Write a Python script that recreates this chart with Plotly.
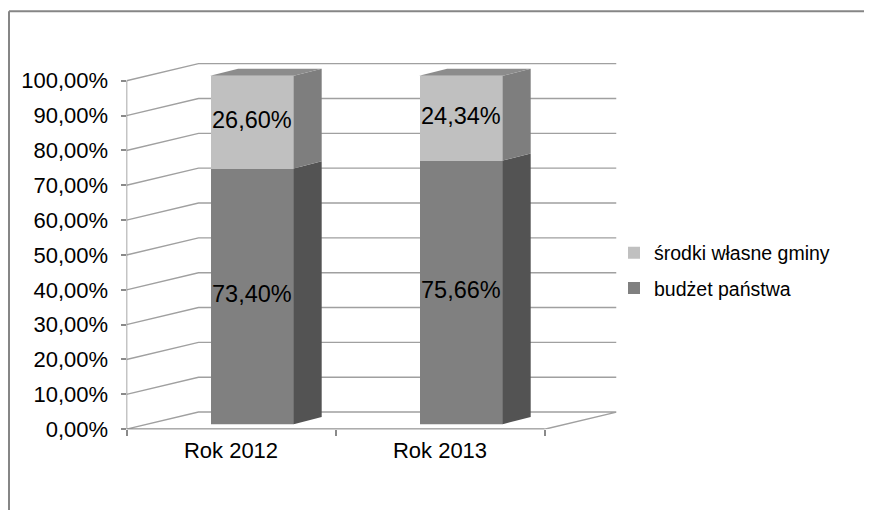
import plotly.graph_objects as go

# ---------------- data ----------------
categories = ["Rok 2012", "Rok 2013"]
budzet_panstwa = [73.40, 75.66]
srodki_wlasne = [26.60, 24.34]
y_ticks = [0, 10, 20, 30, 40, 50, 60, 70, 80, 90, 100]

# ---------------- geometry / style constants ----------------
PAGE_MARGIN = 8                      # default body margin of the html page
SY = 514.0 / 531.0                   # vertical squeeze observed in the capture
W = 872 - 2 * PAGE_MARGIN
H = 515
FONT = "Liberation Sans, Arial, sans-serif"

def px(v):                            # reference-screen x px -> figure px
    return v - PAGE_MARGIN

def py(v):                            # reference-screen y px -> figure px
    return v / SY - PAGE_MARGIN

def dy(v):                            # reference-screen y distance -> figure px
    return v / SY

X_LEFT_PX = px(126.5)
UNIT_PX = 209.0                       # px per category
Y0_PX = py(426.0)                     # px of 0%
PX_PER_PCT = dy(3.46)
DEPTH_WALL_X = 72.0 / UNIT_PX
DEPTH_WALL_Y = 17.0 / 3.46
X_MAX = len(categories) - 0.5 + DEPTH_WALL_X
Y_TOP_PX = py(58.0)
BAR_SHIFT_PX = dy(5.0)                # bars sit a bit deeper than the front floor edge

BAR_OFFSET = -0.1
BAR_WIDTH = 0.4
DEPTH_BAR_X = 28.0 / UNIT_PX
DEPTH_BAR_Y = 7.0 / 3.46

C_LOW_FRONT = "#808080"
C_LOW_SIDE = "#535353"
C_HIGH_FRONT = "#c0c0c0"
C_HIGH_SIDE = "#7e7e7e"
C_TOP = "#8c8c8c"
C_GRID = "#a0a0a0"
C_AXIS = "#8a8a8a"

x_pos = list(range(len(categories)))
y_range_top = (Y0_PX - Y_TOP_PX) / PX_PER_PCT

def fmt(v):
    return f"{v:.2f}".replace(".", ",") + "%"

fig = go.Figure()

fig.add_trace(go.Bar(
    x=x_pos, y=budzet_panstwa, name="budżet państwa",
    marker=dict(color=C_LOW_FRONT, line=dict(width=0)),
    width=BAR_WIDTH, offset=BAR_OFFSET, xaxis="x", yaxis="y2",
    hoverinfo="skip", legendgroup="b", legendrank=2,
))
fig.add_trace(go.Bar(
    x=x_pos, y=srodki_wlasne, name="środki własne gminy",
    marker=dict(color=C_HIGH_FRONT, line=dict(width=0)),
    width=BAR_WIDTH, offset=BAR_OFFSET, xaxis="x", yaxis="y2",
    hoverinfo="skip", legendgroup="a", legendrank=1,
))

# data labels
lab_x, lab_y, lab_t = [], [], []
for i, (a, b) in enumerate(zip(budzet_panstwa, srodki_wlasne)):
    cx = x_pos[i] + BAR_OFFSET + BAR_WIDTH / 2
    lab_x += [cx, cx]
    lab_y += [a / 2, a + b / 2]
    lab_t += [fmt(a), fmt(b)]
fig.add_trace(go.Scatter(
    x=lab_x, y=lab_y, text=lab_t, mode="text", xaxis="x", yaxis="y2",
    textfont=dict(family=FONT, size=23.5, color="#000000"),
    showlegend=False, hoverinfo="skip",
))

shapes = []
# back wall gridlines
xl = -0.5
for v in y_ticks[1:]:
    shapes.append(dict(
        type="path", xref="x", yref="y", layer="below",
        path=f"M {xl},{v} L {xl + DEPTH_WALL_X},{v + DEPTH_WALL_Y} L {X_MAX},{v + DEPTH_WALL_Y}",
        line=dict(color=C_GRID, width=1.4),
    ))
# floor
xr = len(categories) - 0.5
shapes.append(dict(
    type="path", xref="x", yref="y", layer="below",
    path=(f"M {xl},0 L {xr},0 L {xr + DEPTH_WALL_X},{DEPTH_WALL_Y} "
          f"L {xl + DEPTH_WALL_X},{DEPTH_WALL_Y} Z"),
    line=dict(color=C_GRID, width=1.4), fillcolor="rgba(0,0,0,0)",
))
# front axis lines
shapes.append(dict(type="line", xref="x", yref="y", x0=xl, x1=xr, y0=0, y1=0,
                   line=dict(color=C_AXIS, width=1.5), layer="above"))
shapes.append(dict(type="line", xref="x", yref="y", x0=xl, x1=xl, y0=0, y1=max(y_ticks),
                   line=dict(color=C_AXIS, width=1.5), layer="above"))

# 3D faces of bars
for i in range(len(categories)):
    xf0 = x_pos[i] + BAR_OFFSET
    xf1 = xf0 + BAR_WIDTH
    segs = [(0, budzet_panstwa[i], C_LOW_SIDE),
            (budzet_panstwa[i], budzet_panstwa[i] + srodki_wlasne[i], C_HIGH_SIDE)]
    for (b0, b1, col) in segs:
        shapes.append(dict(
            type="path", xref="x", yref="y2", layer="above",
            path=(f"M {xf1},{b0} L {xf1 + DEPTH_BAR_X},{b0 + DEPTH_BAR_Y} "
                  f"L {xf1 + DEPTH_BAR_X},{b1 + DEPTH_BAR_Y} L {xf1},{b1} Z"),
            fillcolor=col, line=dict(width=0),
        ))
    top = budzet_panstwa[i] + srodki_wlasne[i]
    shapes.append(dict(
        type="path", xref="x", yref="y2", layer="above",
        path=(f"M {xf0},{top} L {xf0 + DEPTH_BAR_X},{top + DEPTH_BAR_Y} "
              f"L {xf1 + DEPTH_BAR_X},{top + DEPTH_BAR_Y} L {xf1},{top} Z"),
        fillcolor=C_TOP, line=dict(width=0),
    ))

# outer chart border (left and top visible)
bx = px(9.0) / W
by = 1 - py(11.0) / H
shapes.append(dict(type="line", xref="paper", yref="paper", x0=bx, x1=bx, y0=0, y1=by,
                   line=dict(color="#868686", width=2)))
shapes.append(dict(type="line", xref="paper", yref="paper", x0=bx, x1=1, y0=by, y1=by,
                   line=dict(color="#868686", width=2)))

x_dom = [X_LEFT_PX / W, (X_LEFT_PX + (X_MAX + 0.5) * UNIT_PX) / W]
y_dom = [(H - Y0_PX) / H, (H - Y_TOP_PX) / H]
y2_dom = [(H - Y0_PX + BAR_SHIFT_PX) / H, (H - Y_TOP_PX + BAR_SHIFT_PX) / H]

fig.update_layout(
    width=W, height=H,
    margin=dict(l=0, r=0, t=0, b=0),
    paper_bgcolor="white", plot_bgcolor="rgba(0,0,0,0)",
    barmode="stack", bargap=0,
    font=dict(family=FONT, color="#000000"),
    shapes=shapes,
    xaxis=dict(
        domain=x_dom, range=[-0.5, X_MAX], anchor="y",
        tickmode="array", tickvals=x_pos, ticktext=categories,
        ticks="", showgrid=False, zeroline=False, showline=False,
        tickfont=dict(family=FONT, size=22, color="#000000"),
        ticklabelstandoff=6,
        minor=dict(tickmode="array", tickvals=[p - 0.5 for p in x_pos] + [xr],
                   ticks="outside", ticklen=6, tickcolor=C_AXIS, tickwidth=1.5,
                   showgrid=False),
    ),
    yaxis=dict(
        domain=y_dom, range=[0, y_range_top], anchor="x",
        tickmode="array", tickvals=y_ticks, ticktext=[fmt(v) for v in y_ticks],
        ticks="outside", ticklen=5, tickcolor=C_AXIS, tickwidth=1.5,
        showgrid=False, zeroline=False, showline=False,
        tickfont=dict(family=FONT, size=22, color="#000000"),
        ticklabelstandoff=8,
    ),
    yaxis2=dict(
        domain=y2_dom, range=[0, y_range_top], anchor="x",
        visible=False, showgrid=False, zeroline=False,
    ),
    legend=dict(
        x=px(614) / W, xanchor="left", y=1 - py(268.5) / H, yanchor="middle",
        traceorder="grouped", tracegroupgap=7,
        font=dict(family=FONT, size=19.5, color="#000000"),
        bgcolor="rgba(0,0,0,0)",
    ),
    showlegend=True,
)

fig.write_html("out.html")
